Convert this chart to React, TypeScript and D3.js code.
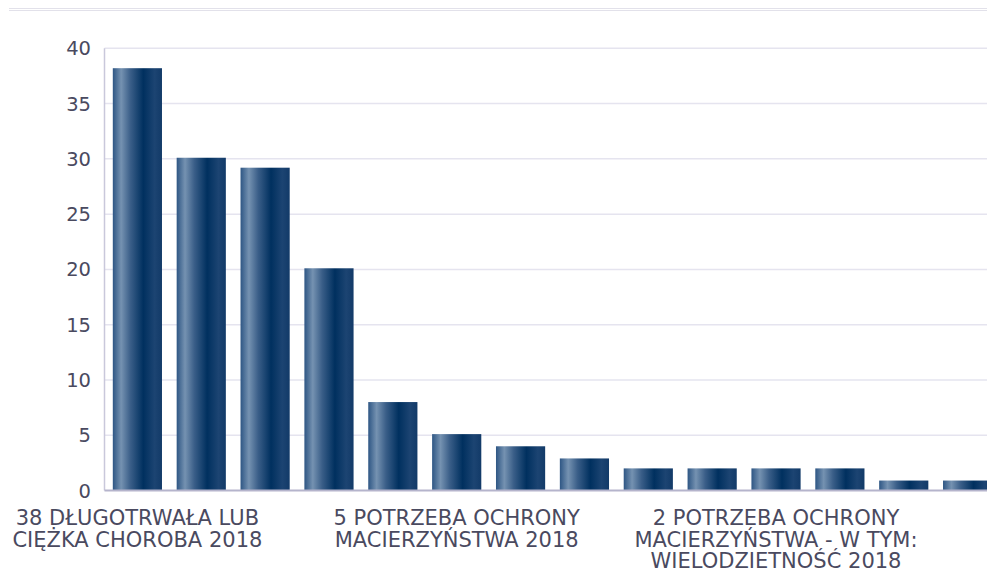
import React, { useRef, useEffect } from "react";
import * as d3 from "d3";

// data
const categories = [
    "38 DŁUGOTRWAŁA LUB CIĘŻKA CHOROBA 2018",
    "30 UBÓSTWO 2018",
    "29 NIEPEŁNOSPRAWNOŚĆ 2018",
    "20 BEZROBOCIE 2018",
    "8 BEZRADNOŚĆ W SPRAWACH OPIEKUŃCZO-WYCHOWAWCZYCH 2018",
    "5 POTRZEBA OCHRONY MACIERZYŃSTWA 2018",
    "4 ALKOHOLIZM 2018",
    "3 BEZDOMNOŚĆ 2018",
    "2 PRZEMOC W RODZINIE 2018",
    "2 ZDARZENIE LOSOWE 2018",
    "2 POTRZEBA OCHRONY MACIERZYŃSTWA - W TYM: WIELODZIETNOŚĆ 2018",
    "2 SYTUACJA KRYZYSOWA 2018",
    "1 NARKOMANIA 2018",
    "1 SIEROCTWO 2018",
];
const values = [38.2, 30.1, 29.2, 20.1, 8.0, 5.1, 4.0, 2.9, 2.0, 2.0, 2.0, 2.0, 0.9, 0.9];
// only some categories get a visible label
const labelLines: Record<number, string[]> = {
    0: ["38 DŁUGOTRWAŁA LUB", "CIĘŻKA CHOROBA 2018"],
    5: ["5 POTRZEBA OCHRONY", "MACIERZYŃSTWA 2018"],
    10: ["2 POTRZEBA OCHRONY", "MACIERZYŃSTWA - W TYM:", "WIELODZIETNOŚĆ 2018"],
};
const yTicks = [0, 5, 10, 15, 20, 25, 30, 35, 40];

export default function App() {
    const ref = useRef<SVGSVGElement>(null);
    const w = 987;
    const h = 571;

    useEffect(() => {
        const svg = d3.select(ref.current);
        svg.selectAll("*").remove();

        const left = 104.5;
        const top = 48.3;
        const bottom = 490.5;
        const font = "'DejaVu Sans', sans-serif";
        const textColor = "#4a4a5f";

        const x = d3
            .scaleBand<number>()
            .domain(d3.range(categories.length))
            .range([left, left + 14 * 64])
            .paddingInner(0.23)
            .paddingOuter(0.13);

        const y = d3.scaleLinear().domain([0, 40]).range([bottom, top]);

        // gradient for the bars
        const grad = svg
            .append("defs")
            .append("linearGradient")
            .attr("id", "barGrad")
            .attr("x1", "0%")
            .attr("x2", "100%")
            .attr("y1", "0%")
            .attr("y2", "0%");
        const stops = [
            [0, "#2e5684"],
            [0.17, "#7592b1"],
            [0.36, "#3a5e88"],
            [0.62, "#00305f"],
            [0.85, "#1c4472"],
            [1, "#123a68"],
        ];
        stops.forEach(([o, c]) => {
            grad.append("stop").attr("offset", o as number).attr("stop-color", c as string);
        });

        // top double rule
        [8.5, 10.5].forEach((yy) => {
            svg.append("line")
                .attr("x1", 9).attr("x2", w)
                .attr("y1", yy).attr("y2", yy)
                .attr("stroke", "#e2e1ea")
                .attr("stroke-width", 1);
        });

        // grid
        svg.append("g")
            .selectAll("line")
            .data(yTicks.filter((t) => t > 0))
            .enter()
            .append("line")
            .attr("x1", left)
            .attr("x2", w)
            .attr("y1", (d) => y(d))
            .attr("y2", (d) => y(d))
            .attr("stroke", "#e5e4ef")
            .attr("stroke-width", 1.5);

        // y tick labels
        svg.append("g")
            .selectAll("text")
            .data(yTicks)
            .enter()
            .append("text")
            .attr("x", 91)
            .attr("y", (d) => y(d))
            .attr("dy", "0.36em")
            .attr("text-anchor", "end")
            .attr("font-family", font)
            .attr("font-size", 19.5)
            .attr("fill", textColor)
            .text((d) => d);

        // bars
        svg.append("g")
            .selectAll("rect")
            .data(values)
            .enter()
            .append("rect")
            .attr("x", (d, i) => x(i)!)
            .attr("y", (d) => y(d))
            .attr("width", x.bandwidth())
            .attr("height", (d) => bottom - y(d))
            .attr("fill", "url(#barGrad)");

        // axis lines
        svg.append("line")
            .attr("x1", left).attr("x2", left)
            .attr("y1", top).attr("y2", bottom)
            .attr("stroke", "#c9c8db")
            .attr("stroke-width", 1.5);
        svg.append("line")
            .attr("x1", left).attr("x2", w)
            .attr("y1", bottom).attr("y2", bottom)
            .attr("stroke", "#b5b4cc")
            .attr("stroke-width", 2);

        // category labels
        const labels = svg.append("g");
        Object.keys(labelLines).forEach((k) => {
            const i = +k;
            const cx = x(i)! + x.bandwidth() / 2;
            const t = labels
                .append("text")
                .attr("text-anchor", "middle")
                .attr("font-family", font)
                .attr("font-size", 21)
                .attr("fill", textColor);
            labelLines[i].forEach((line, j) => {
                t.append("tspan")
                    .attr("x", cx)
                    .attr("y", 525 + j * 21.5)
                    .text(line);
            });
        });
    }, []);

    return (
        <div style={{ position: "absolute", left: 0, top: 0 }}>
            <svg ref={ref} width={w} height={h} style={{ display: "block" }}></svg>
        </div>
    );
}
